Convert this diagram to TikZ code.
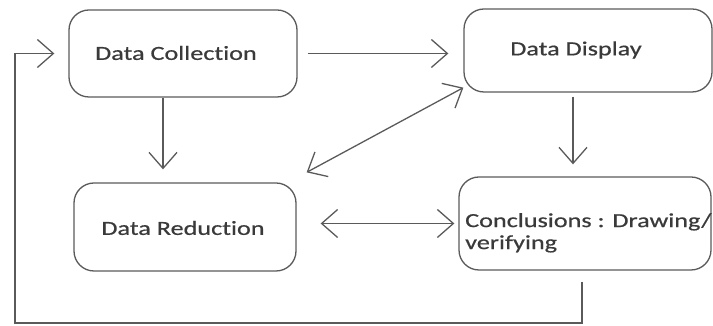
\documentclass[tikz,border=0pt]{standalone}
\usepackage{fontspec}
\setmainfont{Carlito}[FakeStretch=1.31,FakeBold=0.6,Ligatures={NoCommon,NoContextual}]
\usetikzlibrary{arrows.meta,positioning,calc}
\definecolor{ln}{HTML}{5A5A5A}
\definecolor{tx}{HTML}{3A3A3A}
\tikzset{
  box/.style={draw=ln, line width=1.3pt, rounded corners=20pt, inner sep=0pt},
  lbl/.style={text=tx, font=\fontsize{20}{22}\selectfont, inner sep=0pt},
  arr/.style={draw=ln, line width=1.3pt, -{Straight Barb[length=16pt,width=28pt,line width=1.3pt]}},
  arrb/.style={draw=ln, line width=1.3pt, {Straight Barb[length=16pt,width=28pt,line width=1.3pt]}-{Straight Barb[length=16pt,width=28pt,line width=1.3pt]}}
}
\begin{document}
\begin{tikzpicture}[x=1pt,y=1pt]
\useasboundingbox (0,0) rectangle (713,326);
% boxes
\node[box, minimum width=228pt, minimum height=87pt] (dc) at (183,272.5) {};
\node[box, minimum width=248pt, minimum height=83pt] (dd) at (588,275.5) {};
\node[box, minimum width=222pt, minimum height=88pt] (dr) at (185,99) {};
\node[box, minimum width=252pt, minimum height=93pt] (cl) at (585,102.5) {};
% labels
\node[lbl] (dct) at (176,273) {Data Collection};
\node[lbl] (ddt) at (576,276) {Data Display};
\node[lbl] (drt) at (183,98) {Data Reduction};
\node[lbl, anchor=north west, align=left] (clt) at (465,113) {Conclusions : Drawing/\\verifying};
% connectors
\draw[arr] ([xshift=10pt]dc.east) -- ([xshift=-15pt]dd.west |- dc.east);
\draw[arr] ([xshift=-20pt]dc.south) -- ([xshift=-20pt,yshift=13pt]dc.south |- dr.north);
\draw[arr] ([xshift=-15pt,yshift=-4pt]dd.south) -- ([xshift=-15pt,yshift=12pt]dd.south |- cl.north);
\draw[arrb] ([shift={(10pt,10pt)}]dr.north east) -- ([shift={(0pt,5pt)}]dd.south west);
\draw[arrb] ([xshift=24pt]dr.east |- cl.west) -- ([xshift=-4pt]cl.west);
\coordinate (fb) at (15,3);
\draw[arr] ([shift={(-3pt,-11pt)}]cl.south) |- (fb) |- ([xshift=-14pt]dc.west);
\end{tikzpicture}
\end{document}
